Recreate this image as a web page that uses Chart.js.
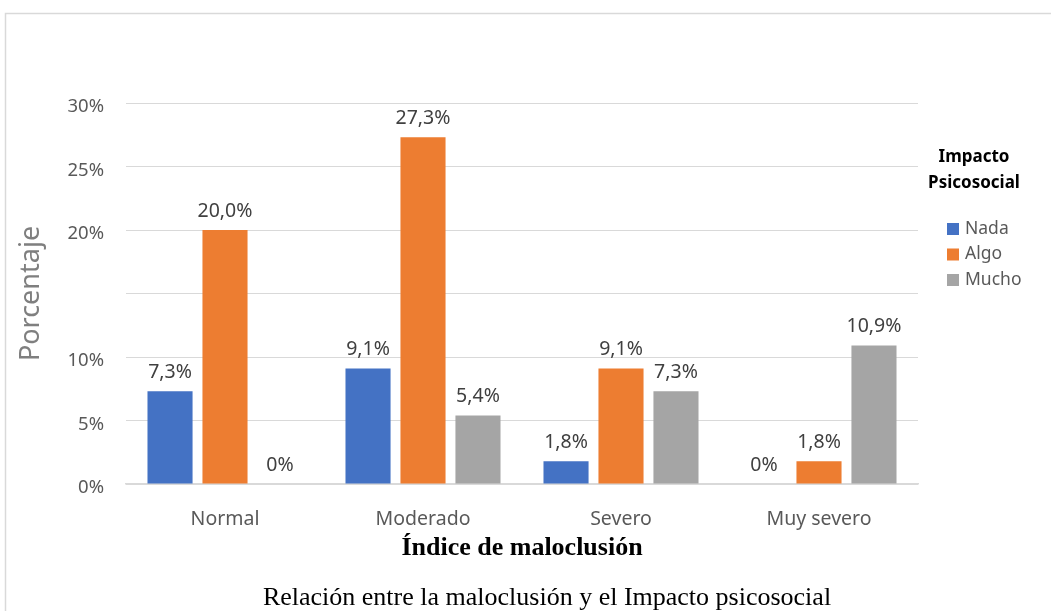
<!DOCTYPE html>
<html>
<head>
<meta charset="utf-8">
<script src="https://cdn.jsdelivr.net/npm/chart.js@4/dist/chart.umd.min.js"></script>
<style>
  html, body { margin: 0; padding: 0; background: #fff; }
  #wrap { width: 1051px; height: 611px; }
</style>
</head>
<body>
<div id="wrap"><canvas id="chart" width="1051" height="611"></canvas></div>
<script>
// data
var categories = ["Normal", "Moderado", "Severo", "Muy severo"];
var seriesNames = ["Nada", "Algo", "Mucho"];
var nada = [7.3, 9.1, 1.8, 0];
var algo = [20.0, 27.3, 9.1, 1.8];
var mucho = [0, 5.4, 7.3, 10.9];
var yTicks = [0, 5, 10, 15, 20, 25, 30];
var hiddenTicks = [15];
var colors = ["#4472C4", "#ED7D31", "#A5A5A5"];

var legendTitle = ["Impacto", "Psicosocial"];
var xTitle = "Índice de maloclusión";
var yTitle = "Porcentaje";
var caption = "Relación entre la maloclusión y el Impacto psicosocial";

var sans = "'Noto Sans', 'Open Sans', sans-serif";
var serif = "'Liberation Serif', serif";

function fmt(v) {
    if (v === 0) return "0%";
    return v.toFixed(1).replace(".", ",") + "%";
}

// draws labels over bars, legend, frame and caption
var extras = {
    id: "extras",
    beforeDraw: function (chart) {
        var ctx = chart.ctx;
        ctx.save();
        ctx.strokeStyle = "#D9D9D9";
        ctx.lineWidth = 1.5;
        ctx.strokeRect(5.5, 13.5, 1200, 800);
        ctx.restore();
    },
    afterDatasetsDraw: function (chart) {
        var ctx = chart.ctx;
        ctx.save();
        ctx.font = "19.5px " + sans;
        ctx.fillStyle = "#404040";
        ctx.textAlign = "center";
        ctx.textBaseline = "middle";
        chart.data.datasets.forEach(function (ds, i) {
            var meta = chart.getDatasetMeta(i);
            meta.data.forEach(function (bar, j) {
                ctx.fillText(fmt(ds.data[j]), bar.x, bar.y - 19);
            });
        });

        // legend
        ctx.font = "bold 17px " + sans;
        ctx.fillStyle = "#000";
        ctx.fillText(legendTitle[0], 974, 157);
        ctx.fillText(legendTitle[1], 974, 183);
        ctx.font = "17.5px " + sans;
        ctx.textAlign = "left";
        chart.data.datasets.forEach(function (ds, i) {
            var y = 229 + i * 25.5;
            ctx.fillStyle = ds.backgroundColor;
            ctx.fillRect(947, y - 6, 12, 12);
            ctx.fillStyle = "#595959";
            ctx.fillText(ds.label, 965, y);
        });

        // caption
        ctx.font = "26px " + serif;
        ctx.fillStyle = "#000";
        ctx.textAlign = "center";
        ctx.fillText(caption, 547, 598);
        ctx.restore();
    }
};

var ctx = document.getElementById("chart").getContext("2d");
var chart = new Chart(ctx, {
    type: "bar",
    data: {
        labels: categories,
        datasets: [
            { label: seriesNames[0], data: nada, backgroundColor: colors[0] },
            { label: seriesNames[1], data: algo, backgroundColor: colors[1] },
            { label: seriesNames[2], data: mucho, backgroundColor: colors[2] }
        ]
    },
    options: {
        responsive: false,
        animation: false,
        layout: { padding: { left: 15, right: 133, top: 103, bottom: 47 } },
        datasets: { bar: { categoryPercentage: 0.833, barPercentage: 0.82 } },
        plugins: {
            legend: { display: false },
            tooltip: { enabled: false }
        },
        scales: {
            x: {
                grid: { display: false, drawTicks: false },
                border: { color: "#D9D9D9", width: 1.5 },
                ticks: { color: "#595959", font: { family: sans, size: 19.5 }, padding: 24 },
                title: {
                    display: true, text: xTitle, color: "#000",
                    font: { family: serif, size: 26, weight: "bold" },
                    padding: 0
                },
                afterFit: function (s) { s.height = 80; }
            },
            y: {
                min: 0, max: 30,
                afterBuildTicks: function (s) {
                    s.ticks = yTicks.map(function (v) { return { value: v }; });
                },
                grid: { color: "#D9D9D9", drawTicks: false },
                border: { display: false },
                ticks: {
                    color: "#595959", font: { family: sans, size: 18.5 }, padding: 22,
                    labelOffset: 4,
                    callback: function (v) { return hiddenTicks.indexOf(v) >= 0 ? "" : v + "%"; }
                },
                title: {
                    display: true, text: yTitle, color: "#7F7F7F",
                    font: { family: sans, size: 27 }, padding: 0
                },
                afterFit: function (s) { s.width = 111; }
            }
        }
    },
    plugins: [extras]
});
</script>
</body>
</html>
